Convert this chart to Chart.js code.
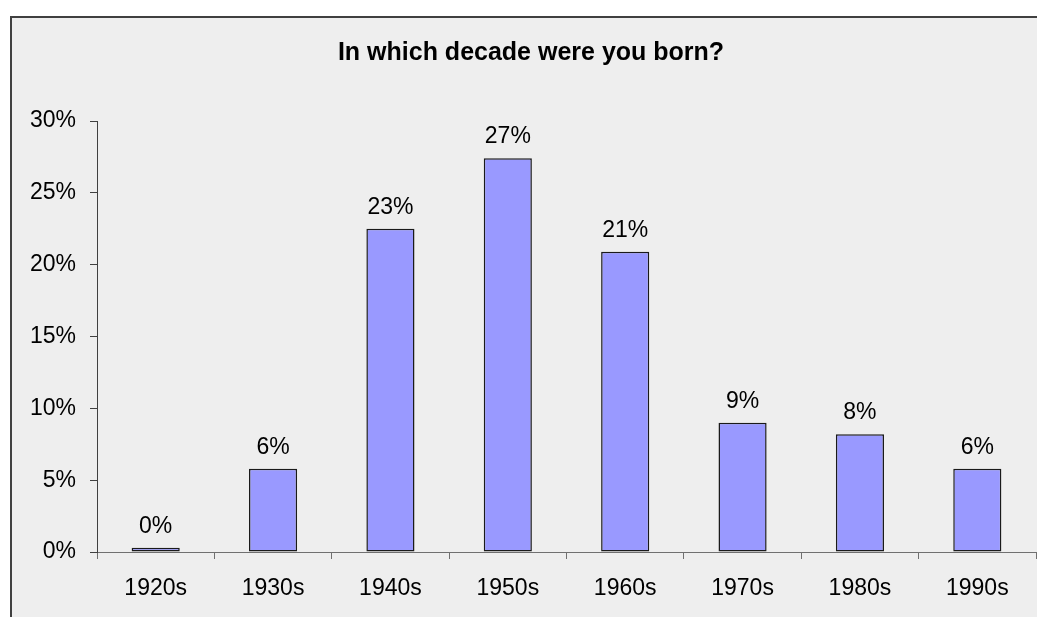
<!DOCTYPE html>
<html>
<head>
<meta charset="utf-8">
<script src="https://cdn.jsdelivr.net/npm/chart.js@4"></script>
<style>
  html, body { margin: 0; padding: 0; background: #fff; overflow: hidden; }
  #frame { position: absolute; left: 10px; top: 16px; width: 1100px; height: 700px;
           background: #eeeeee; border: 2px solid #404040; }
  #wrap { position: absolute; left: 0; top: 0; width: 1037px; height: 617px; }
</style>
</head>
<body>
<div id="frame"></div>
<div id="wrap"><canvas id="chartDecades"></canvas></div>
<script>
const decades = ['1920s', '1930s', '1940s', '1950s', '1960s', '1970s', '1980s', '1990s'];
const shares = [0.3, 5.8, 22.5, 27.4, 20.9, 9.0, 8.2, 5.8];
const yTicks = [0, 5, 10, 15, 20, 25, 30];
const chartTitle = 'In which decade were you born?';

const FONT = '"Liberation Sans", Arial, sans-serif';

// title centred on the frame rather than the canvas
const titlePlugin = {
    id: 'frameTitle',
    afterDraw(chart) {
        const ctx = chart.ctx;
        ctx.save();
        ctx.font = 'bold 25px ' + FONT;
        ctx.fillStyle = '#000';
        ctx.textAlign = 'center';
        ctx.textBaseline = 'alphabetic';
        ctx.fillText(chartTitle, 531, 60);
        ctx.restore();
    }
};

const valueLabels = {
    id: 'valueLabels',
    afterDatasetsDraw(chart) {
        const ctx = chart.ctx;
        const meta = chart.getDatasetMeta(0);
        ctx.save();
        ctx.font = '23px ' + FONT;
        ctx.fillStyle = '#000';
        ctx.textAlign = 'center';
        ctx.textBaseline = 'alphabetic';
        meta.data.forEach((bar, i) => {
            ctx.fillText(Math.round(shares[i]) + '%', bar.x, bar.y - 15);
        });
        ctx.restore();
    }
};

new Chart(document.getElementById('chartDecades'), {
    type: 'bar',
    data: {
        labels: decades,
        datasets: [{
            data: shares,
            backgroundColor: '#9999ff',
            borderColor: '#1a1a1a',
            borderWidth: 1.5,
            borderSkipped: false,
            barPercentage: 0.41,
            categoryPercentage: 1
        }]
    },
    options: {
        responsive: true,
        maintainAspectRatio: false,
        animation: false,
        layout: { padding: { top: 121, right: 1, left: 0, bottom: 0 } },
        plugins: {
            legend: { display: false },
            title: { display: false },
            tooltip: { enabled: false }
        },
        scales: {
            x: {
                grid: { offset: true, drawOnChartArea: false, drawTicks: true, tickLength: 7, color: '#707070' },
                border: { color: '#707070', width: 1 },
                ticks: { color: '#000', font: { family: FONT, size: 23 }, padding: 16, maxRotation: 0 },
                afterFit(scale) { scale.height = 65; }
            },
            y: {
                min: 0,
                max: 30,
                afterBuildTicks(scale) { scale.ticks = yTicks.map(v => ({ value: v })); },
                grid: { drawOnChartArea: false, drawTicks: true, tickLength: 7, color: '#404040' },
                border: { color: '#404040', width: 1 },
                ticks: { color: '#000', font: { family: FONT, size: 23 }, padding: 14, callback: v => v + '%' },
                afterFit(scale) { scale.width = 97; }
            }
        }
    },
    plugins: [titlePlugin, valueLabels]
});
</script>
</body>
</html>
